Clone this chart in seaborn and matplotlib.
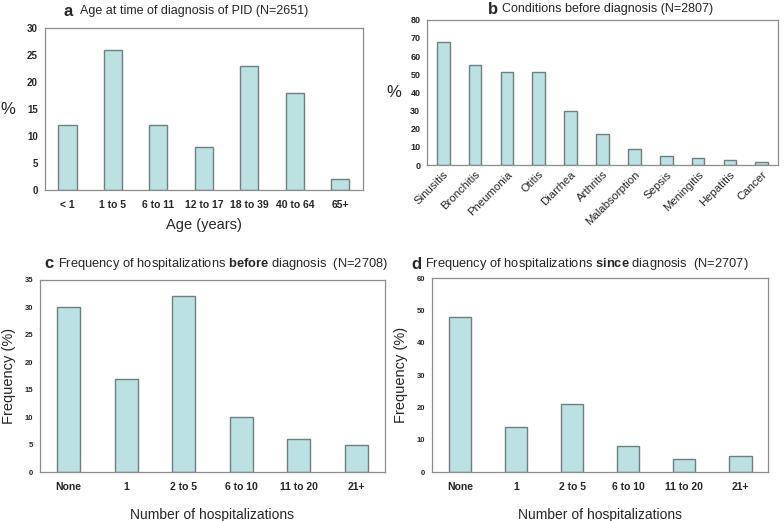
import matplotlib
matplotlib.use("Agg")
import matplotlib.pyplot as plt
import seaborn as sns
import pandas as pd
import numpy as np

# data
age_groups = ['< 1', '1 to 5', '6 to 11', '12 to 17', '18 to 39', '40 to 64', '65+']
age_pct = [12, 26, 12, 8, 23, 18, 2]

conditions = ['Sinusitis', 'Bronchitis', 'Pneumonia', 'Otitis', 'Diarrhea', 'Arthritis',
              'Malabsorption', 'Sepsis', 'Meningitis', 'Hepatitis', 'Cancer']
condition_pct = [68, 55, 51, 51, 30, 17, 9, 5, 4, 3, 2]

hosp_groups = ['None', '1', '2 to 5', '6 to 10', '11 to 20', '21+']
hosp_before = [30, 17, 32, 10, 6, 5]
hosp_since = [48, 14, 21, 8, 4, 5]

sns.set_theme(style="white")
plt.rcParams['font.family'] = ['Liberation Sans', 'DejaVu Sans']
plt.rcParams['mathtext.fontset'] = 'custom'
plt.rcParams['mathtext.rm'] = 'Liberation Sans'
plt.rcParams['mathtext.bf'] = 'Liberation Sans:bold'

BAR = '#bbe1e2'
EDGE = '#6f7f80'
SPINE = '#8c8c8c'

fig = plt.figure(figsize=(7.84, 5.21), dpi=100)


def panel(rect, cats, vals, ymax, ystep, ytick_size, rot=0, xtick_size=7.5, xbold=True):
    ax = fig.add_axes(rect)
    df = pd.DataFrame({'cat': cats, 'val': vals})
    sns.barplot(data=df, x='cat', y='val', color=BAR, edgecolor=EDGE, linewidth=1.0,
                width=0.4, saturation=1, ax=ax)
    n = len(cats)
    ax.set_xlim(-0.5, n - 0.5)
    ax.set_ylim(0, ymax)
    ax.set_yticks(np.arange(0, ymax + 1, ystep))
    ax.set_xticks(np.arange(-0.5, n, 1.0), minor=True)
    ax.tick_params(axis='x', which='major', length=0, pad=7)
    ax.tick_params(axis='x', which='minor', length=3, color=SPINE, direction='out')
    ax.tick_params(axis='y', length=3, color=SPINE, direction='out', pad=2,
                   labelsize=ytick_size)
    for lab in ax.get_yticklabels():
        lab.set_fontweight('bold')
    if rot:
        ax.set_xticks(range(n), cats, rotation=rot, ha='right', rotation_mode='anchor',
                      fontsize=xtick_size)
    else:
        ax.set_xticks(range(n), cats, fontsize=xtick_size,
                      fontweight='bold' if xbold else 'normal')
    for s in ax.spines.values():
        s.set_color(SPINE)
        s.set_linewidth(0.9)
    ax.set_xlabel('')
    ax.set_ylabel('')
    return ax


# a
ax_a = panel([0.057, 0.635, 0.406, 0.311], age_groups, age_pct, 30, 5, 7)
ax_a.set_xlabel('Age (years)', fontsize=10.5, labelpad=6)
ax_a.set_ylabel('%', fontsize=12, rotation=0, labelpad=14, va='center')
fig.text(63 / 784, 1 - 11 / 521, r'$\bf{a}$', fontsize=12, va='center')
fig.text(80 / 784, 1 - 11 / 521, 'Age at time of diagnosis of PID (N=2651)', fontsize=9,
         va='center')

# b
ax_b = panel([0.545, 0.683, 0.447, 0.279], conditions, condition_pct, 80, 10, 6.5,
             rot=45, xtick_size=8.2)
ax_b.tick_params(axis='x', which='major', pad=3)
ax_b.set_ylabel('%', fontsize=12, rotation=0, labelpad=12, va='center')
fig.text(487 / 784, 1 - 9 / 521, r'$\bf{b}$', fontsize=12, va='center')
fig.text(502 / 784, 1 - 9 / 521, 'Conditions before diagnosis (N=2807)', fontsize=9,
         va='center')

# c
ax_c = panel([0.051, 0.094, 0.44, 0.369], hosp_groups, hosp_before, 35, 5, 5.5)
ax_c.set_xlabel('Number of hospitalizations', fontsize=10, labelpad=12)
ax_c.set_ylabel('Frequency (%)', fontsize=10.5, labelpad=6)
fig.text(44 / 784, 1 - 264 / 521, r'$\bf{c}$', fontsize=12, va='center')
fig.text(58 / 784, 1 - 264 / 521,
         r'Frequency of hospitalizations $\bf{before}$ diagnosis  (N=2708)', fontsize=9.3,
         va='center')

# d
ax_d = panel([0.551, 0.094, 0.429, 0.372], hosp_groups, hosp_since, 60, 10, 5.5)
ax_d.set_xlabel('Number of hospitalizations', fontsize=10, labelpad=12)
ax_d.set_ylabel('Frequency (%)', fontsize=10.5, labelpad=6)
fig.text(411 / 784, 1 - 264 / 521, r'$\bf{d}$', fontsize=12, va='center')
fig.text(425 / 784, 1 - 264 / 521,
         r'Frequency of hospitalizations $\bf{since}$ diagnosis  (N=2707)', fontsize=9.3,
         va='center')

fig.savefig('out.png', dpi=100, facecolor='white')
